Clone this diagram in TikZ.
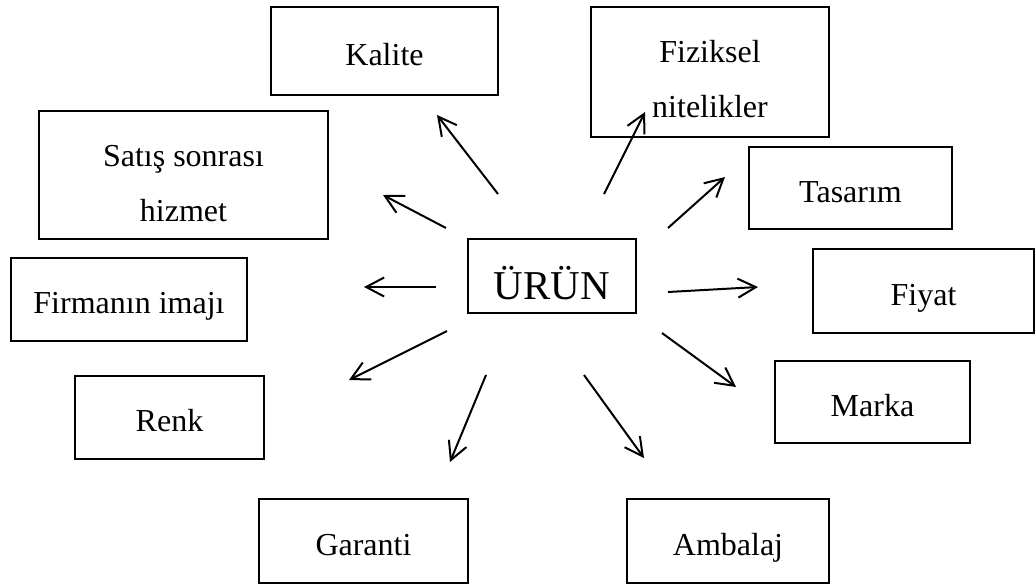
\documentclass[tikz,border=0pt]{standalone}
\usepackage{fontspec}
\setmainfont{Liberation Serif}
\usetikzlibrary{arrows.meta}

\tikzset{
  kutu/.style={draw, line width=0.6pt, inner sep=0pt, align=center,
    font=\fontsize{16}{27.5}\selectfont},
  tek/.style={kutu, text height=14pt, text depth=0pt},
  ok/.style={line width=1pt, -{Straight Barb[length=9pt,width=9.5pt,line width=1pt]}},
}

\begin{document}
\begin{tikzpicture}[x=0.5pt, y=-0.5pt]
\useasboundingbox (0,0) rectangle (1035,585);

\node[kutu, minimum width=84pt, minimum height=37pt, font=\fontsize{20.5}{24}\selectfont] (urun) at (552,276) {\rule{0pt}{24pt}ÜRÜN};

\node[tek, minimum width=113.5pt, minimum height=44pt] (kalite) at (384.5,51) {Kalite};
\node[kutu, minimum width=119pt, minimum height=65pt] (fiziksel) at (710,72) {\rule{0pt}{18.5pt}Fiziksel\\nitelikler};
\node[kutu, minimum width=144.5pt, minimum height=64pt] (satis) at (183.5,175) {\rule{0pt}{19pt}Satış sonrası\\hizmet};
\node[tek, minimum width=101.5pt, minimum height=41pt] (tasarim) at (850.5,188) {Tasarım};
\node[tek, minimum width=118pt, minimum height=41.5pt] (firma) at (129,299.5) {Firmanın imajı};
\node[tek, minimum width=110.5pt, minimum height=42pt] (fiyat) at (923.5,291) {Fiyat};
\node[tek, minimum width=94.5pt, minimum height=41.5pt] (renk) at (169.5,417.5) {Renk};
\node[tek, minimum width=97.5pt, minimum height=41pt] (marka) at (872.5,402) {Marka};
\node[tek, minimum width=104.5pt, minimum height=42pt] (garanti) at (363.5,541) {Garanti};
\node[tek, minimum width=101pt, minimum height=42pt] (ambalaj) at (728,541) {Ambalaj};

% ok uclari
\coordinate (kalite0) at (498,194);   \coordinate (kalite1) at (437,115);
\coordinate (fiziksel0) at (604,194); \coordinate (fiziksel1) at (645,112);
\coordinate (tasarim0) at (668,228);  \coordinate (tasarim1) at (725,177);
\coordinate (satis0) at (446,228);    \coordinate (satis1) at (383,195);
\coordinate (firma0) at (436,287);    \coordinate (firma1) at (364,287);
\coordinate (fiyat0) at (668,292);    \coordinate (fiyat1) at (758,287);
\coordinate (renk0) at (447,331);     \coordinate (renk1) at (349,380);
\coordinate (marka0) at (662,333);    \coordinate (marka1) at (736,387);
\coordinate (garanti0) at (486,375);  \coordinate (garanti1) at (450,462);
\coordinate (ambalaj0) at (584,375);  \coordinate (ambalaj1) at (644,458);

\draw[ok] (kalite0) -- (kalite1);
\draw[ok] (fiziksel0) -- (fiziksel1);
\draw[ok] (tasarim0) -- (tasarim1);
\draw[ok] (satis0) -- (satis1);
\draw[ok] (firma0) -- (firma1);
\draw[ok] (fiyat0) -- (fiyat1);
\draw[ok] (renk0) -- (renk1);
\draw[ok] (marka0) -- (marka1);
\draw[ok] (garanti0) -- (garanti1);
\draw[ok] (ambalaj0) -- (ambalaj1);
\end{tikzpicture}
\end{document}
